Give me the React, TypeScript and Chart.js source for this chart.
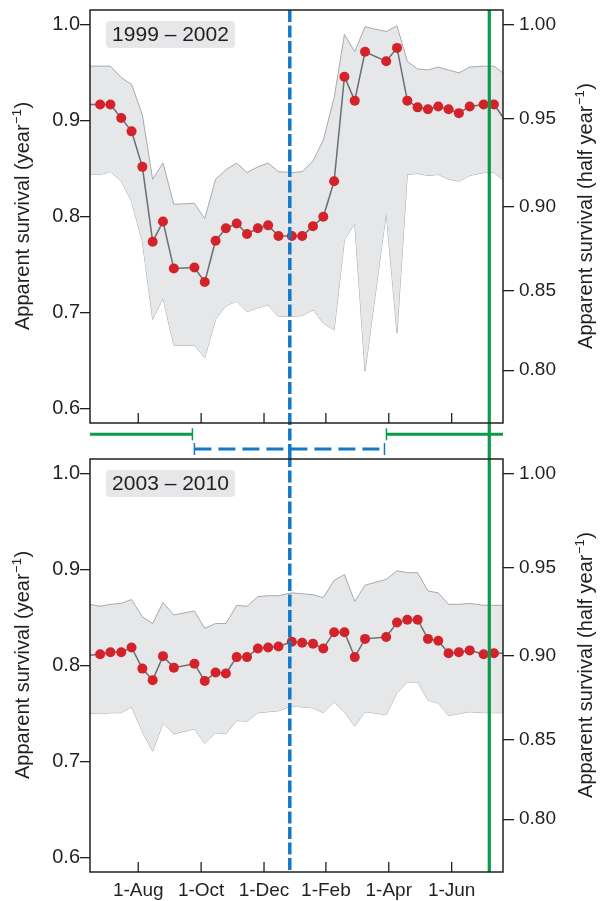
import React, { useEffect, useRef } from 'react';
import { Chart, registerables } from 'chart.js';

Chart.register(...registerables);

// ---------- data (x = days since 1-Jul) ----------
const DAYS = [-26, -6, 4, 14.5, 24.5, 35, 45, 55, 65.5, 85.5, 95.5, 106, 116, 126.5, 136.5, 147, 157, 167, 180, 190, 200.5, 210.5, 221, 231, 241, 251, 271.5, 282, 292, 302, 312, 322, 332, 342, 352.5, 366, 376, 396];

const TOP_SURVIVAL = [0.917, 0.917, 0.917, 0.903, 0.889, 0.852, 0.774, 0.795, 0.746, 0.747, 0.732, 0.775, 0.788, 0.793, 0.782, 0.788, 0.791, 0.780, 0.780, 0.780, 0.790, 0.800, 0.837, 0.946, 0.921, 0.972, 0.962, 0.976, 0.921, 0.914, 0.912, 0.915, 0.912, 0.908, 0.915, 0.917, 0.917, 0.887];
const TOP_UPPER = [0.957, 0.957, 0.957, 0.945, 0.938, 0.906, 0.839, 0.856, 0.813, 0.814, 0.798, 0.839, 0.849, 0.856, 0.846, 0.852, 0.856, 0.847, 0.846, 0.847, 0.858, 0.880, 0.924, 0.990, 0.972, 0.998, 0.993, 0.999, 0.962, 0.954, 0.953, 0.956, 0.953, 0.950, 0.956, 0.957, 0.957, 0.941];
const TOP_LOWER = [0.844, 0.844, 0.847, 0.837, 0.816, 0.774, 0.693, 0.715, 0.666, 0.666, 0.653, 0.693, 0.707, 0.712, 0.701, 0.705, 0.708, 0.696, 0.696, 0.697, 0.703, 0.689, 0.682, 0.776, 0.793, 0.639, 0.804, 0.679, 0.844, 0.845, 0.843, 0.844, 0.839, 0.837, 0.843, 0.846, 0.846, 0.829];

const BOTTOM_SURVIVAL = [0.810, 0.812, 0.814, 0.814, 0.819, 0.797, 0.785, 0.810, 0.798, 0.802, 0.784, 0.793, 0.792, 0.809, 0.809, 0.818, 0.819, 0.820, 0.825, 0.824, 0.823, 0.818, 0.835, 0.835, 0.809, 0.828, 0.830, 0.845, 0.848, 0.848, 0.828, 0.826, 0.813, 0.814, 0.816, 0.812, 0.813, 0.813];
const BOTTOM_UPPER = [0.866, 0.862, 0.864, 0.865, 0.869, 0.851, 0.844, 0.866, 0.853, 0.857, 0.839, 0.844, 0.844, 0.863, 0.862, 0.872, 0.873, 0.873, 0.876, 0.875, 0.874, 0.871, 0.889, 0.895, 0.867, 0.884, 0.890, 0.899, 0.897, 0.897, 0.878, 0.876, 0.864, 0.864, 0.865, 0.863, 0.863, 0.863];
const BOTTOM_LOWER = [0.751, 0.750, 0.751, 0.751, 0.757, 0.731, 0.711, 0.740, 0.729, 0.734, 0.719, 0.730, 0.729, 0.743, 0.742, 0.751, 0.752, 0.753, 0.758, 0.757, 0.756, 0.751, 0.762, 0.752, 0.737, 0.752, 0.749, 0.772, 0.783, 0.783, 0.764, 0.761, 0.748, 0.750, 0.752, 0.751, 0.751, 0.751];

const X_TICK_DAYS = [31, 92, 153, 213, 274, 335];
const X_TICK_LABELS = ['1-Aug', '1-Oct', '1-Dec', '1-Feb', '1-Apr', '1-Jun'];
const YEAR_TICKS = [0.6, 0.7, 0.8, 0.9, 1.0];
const HALF_YEAR_TICKS = [0.8, 0.85, 0.9, 0.95, 1.0];
const PANEL_LABELS = ['1999 – 2002', '2003 – 2010'];

const X_MIN = -15.8;
const X_MAX = 384.8;
const Y_MIN = 0.585;
const Y_MAX = 1.0155;
const WINTER_MARK_DAY = 178;
const SUMMER_MARK_DAY = 371.5;
const WINTER_START = 84.5;
const WINTER_END = 270.8;

// ---------- styles ----------
const FONT = '"Liberation Sans", Arial, Helvetica, sans-serif';
const DARK = '#231f20';
const RED = '#d3222a';
const LINE = '#6d6e71';
const BAND = '#e6e7e8';
const BAND_EDGE = '#a7a9ac';
const BLUE = '#1479c4';
const GREEN = '#0b9a4a';

Chart.defaults.font.family = FONT;
Chart.defaults.color = DARK;

function seg(ctx: CanvasRenderingContext2D, x1: number, y1: number, x2: number, y2: number) {
  ctx.beginPath();
  ctx.moveTo(x1, y1);
  ctx.lineTo(x2, y2);
  ctx.stroke();
}

function drawRotTitle(ctx: CanvasRenderingContext2D, x: number, cy: number, main: string, sup: string, end: string) {
  ctx.save();
  ctx.translate(x, cy);
  ctx.rotate(-Math.PI / 2);
  ctx.fillStyle = DARK;
  ctx.textAlign = 'left';
  ctx.textBaseline = 'alphabetic';
  ctx.font = `20px ${FONT}`;
  const w1 = ctx.measureText(main).width;
  const w3 = ctx.measureText(end).width;
  ctx.font = `13px ${FONT}`;
  const w2 = ctx.measureText(sup).width;
  let sx = -(w1 + w2 + w3) / 2;
  ctx.font = `20px ${FONT}`;
  ctx.fillText(main, sx, 0);
  sx += w1;
  ctx.font = `13px ${FONT}`;
  ctx.fillText(sup, sx + 0.5, -8);
  sx += w2 + 1;
  ctx.font = `20px ${FONT}`;
  ctx.fillText(end, sx, 0);
  ctx.restore();
}

function makeDecor(label: string, isBottom: boolean) {
  return {
    id: 'decor',
    afterDatasetsDraw(chart: any) {
      const ctx: CanvasRenderingContext2D = chart.ctx;
      const a = chart.chartArea;
      const xs = (d: number) => chart.scales.x.getPixelForValue(d);
      ctx.save();

      // inward x ticks
      ctx.strokeStyle = DARK;
      ctx.lineWidth = 1.3;
      ctx.setLineDash([]);
      for (const d of X_TICK_DAYS) {
        const px = xs(d);
        seg(ctx, px, a.bottom, px, a.bottom - 10);
      }

      // vertical markers
      const vTop = isBottom ? 0 : a.top;
      const vBottom = isBottom ? a.bottom : chart.height;
      ctx.strokeStyle = BLUE;
      ctx.lineWidth = 3.5;
      ctx.setLineDash([12, 3.5]);
      seg(ctx, xs(WINTER_MARK_DAY), vTop, xs(WINTER_MARK_DAY), vBottom);
      ctx.setLineDash([]);
      ctx.strokeStyle = GREEN;
      ctx.lineWidth = 3.2;
      seg(ctx, xs(SUMMER_MARK_DAY), vTop, xs(SUMMER_MARK_DAY), vBottom);

      // season bars between panels
      if (!isBottom) {
        const gy = a.bottom + 11.3;
        const by = a.bottom + 26;
        const ws = xs(WINTER_START);
        const we = xs(WINTER_END);
        ctx.strokeStyle = GREEN;
        ctx.lineWidth = 3;
        seg(ctx, a.left, gy, ws - 1, gy);
        seg(ctx, we + 1, gy, a.right, gy);
        ctx.lineWidth = 1.5;
        seg(ctx, ws - 1, gy - 6, ws - 1, gy + 6);
        seg(ctx, we + 1, gy - 6, we + 1, gy + 6);
        ctx.strokeStyle = BLUE;
        ctx.lineWidth = 1.5;
        seg(ctx, ws + 1, by - 6, ws + 1, by + 6);
        seg(ctx, we - 1, by - 6, we - 1, by + 6);
        ctx.lineWidth = 3;
        ctx.setLineDash([17, 7]);
        seg(ctx, ws + 1, by, we - 1, by);
        ctx.setLineDash([]);
      }

      // plot frame
      ctx.strokeStyle = DARK;
      ctx.lineWidth = 1.5;
      ctx.strokeRect(a.left, a.top, a.right - a.left, a.bottom - a.top);

      // panel label
      const bx = 106, bw = 129, bh = 27, byy = a.top + 11;
      ctx.fillStyle = BAND;
      ctx.beginPath();
      (ctx as any).roundRect(bx, byy, bw, bh, 4);
      ctx.fill();
      ctx.fillStyle = DARK;
      ctx.font = `21px ${FONT}`;
      ctx.textAlign = 'center';
      ctx.textBaseline = 'middle';
      ctx.fillText(label, bx + bw / 2, byy + bh / 2 + 1);

      // axis titles
      const cy = (a.top + a.bottom) / 2;
      drawRotTitle(ctx, 29, cy, 'Apparent survival (year', '−1', ')');
      drawRotTitle(ctx, 592, cy, 'Apparent survival (half year', '−1', ')');

      ctx.restore();
    },
  };
}

function Panel(props: {
  top: number;
  height: number;
  padTop: number;
  padBottom: number;
  survival: number[];
  upper: number[];
  lower: number[];
  label: string;
  isBottom: boolean;
}) {
  const ref = useRef<HTMLCanvasElement>(null);
  useEffect(() => {
    const { survival, upper, lower, label, isBottom, padTop, padBottom } = props;
    const mk = (ys: number[]) => DAYS.map((d, i) => ({ x: d, y: ys[i] }));
    const radii = DAYS.map((d) => (d < X_MIN || d > X_MAX ? 0 : 5));
    const chart = new Chart(ref.current as HTMLCanvasElement, {
      type: 'line',
      data: {
        datasets: [
          {
            data: mk(survival),
            borderColor: LINE,
            borderWidth: 1.5,
            pointRadius: radii,
            pointHoverRadius: 0,
            pointBackgroundColor: RED,
            pointBorderWidth: 0,
            fill: false,
            tension: 0,
          },
          {
            data: mk(upper),
            borderColor: BAND_EDGE,
            borderWidth: 1,
            pointRadius: 0,
            fill: '+1',
            backgroundColor: BAND,
            tension: 0,
          },
          {
            data: mk(lower),
            borderColor: BAND_EDGE,
            borderWidth: 1,
            pointRadius: 0,
            fill: false,
            tension: 0,
          },
        ],
      } as any,
      options: {
        responsive: false,
        animation: false,
        devicePixelRatio: 1,
        events: [],
        layout: { padding: { top: padTop, bottom: padBottom, left: 0, right: 0 } },
        plugins: { legend: { display: false }, tooltip: { enabled: false } },
        scales: {
          x: {
            type: 'linear',
            min: X_MIN,
            max: X_MAX,
            display: isBottom,
            grid: { display: false, drawTicks: false },
            border: { display: false },
            ticks: {
              padding: 7,
              font: { size: 19 },
              color: DARK,
              maxRotation: 0,
              autoSkip: false,
              callback: (_v: any, i: number) => X_TICK_LABELS[i],
            },
            afterBuildTicks: (s: any) => {
              s.ticks = X_TICK_DAYS.map((v) => ({ value: v }));
            },
            afterFit: (s: any) => {
              s.height = isBottom ? 29 : 0;
              s.paddingLeft = 0;
              s.paddingRight = 0;
            },
          },
          y: {
            type: 'linear',
            position: 'left',
            min: Y_MIN,
            max: Y_MAX,
            grid: { drawOnChartArea: false, drawTicks: true, tickLength: 10, color: DARK, lineWidth: 1.3 },
            border: { display: false },
            ticks: {
              padding: 0,
              font: { size: 20 },
              color: DARK,
              callback: (v: any) => Number(v).toFixed(1),
            },
            afterBuildTicks: (s: any) => {
              s.ticks = YEAR_TICKS.map((v) => ({ value: v }));
            },
            afterFit: (s: any) => {
              s.width = 90;
              s.paddingTop = 0;
              s.paddingBottom = 0;
            },
          },
          y2: {
            type: 'linear',
            position: 'right',
            min: Y_MIN,
            max: Y_MAX,
            grid: { drawOnChartArea: false, drawTicks: true, tickLength: 11, color: DARK, lineWidth: 1.3 },
            border: { display: false },
            ticks: {
              padding: 5,
              font: { size: 19 },
              color: DARK,
              callback: (v: any) => Math.sqrt(Number(v)).toFixed(2),
            },
            afterBuildTicks: (s: any) => {
              s.ticks = HALF_YEAR_TICKS.map((h) => ({ value: h * h }));
            },
            afterFit: (s: any) => {
              s.width = 103;
              s.paddingTop = 0;
              s.paddingBottom = 0;
            },
          },
        },
      } as any,
      plugins: [makeDecor(label, isBottom)],
    });
    return () => chart.destroy();
  }, []);
  return (
    <canvas
      ref={ref}
      width={606}
      height={props.height}
      style={{ position: 'absolute', left: 0, top: props.top, width: 606, height: props.height, display: 'block' }}
    />
  );
}

export default function App() {
  return (
    <div style={{ position: 'absolute', left: 0, top: 0, width: 606, height: 901, background: '#ffffff', overflow: 'hidden' }}>
      <Panel
        top={0}
        height={455}
        padTop={10}
        padBottom={32}
        survival={TOP_SURVIVAL}
        upper={TOP_UPPER}
        lower={TOP_LOWER}
        label={PANEL_LABELS[0]}
        isBottom={false}
      />
      <Panel
        top={455}
        height={446}
        padTop={4}
        padBottom={0}
        survival={BOTTOM_SURVIVAL}
        upper={BOTTOM_UPPER}
        lower={BOTTOM_LOWER}
        label={PANEL_LABELS[1]}
        isBottom={true}
      />
    </div>
  );
}
